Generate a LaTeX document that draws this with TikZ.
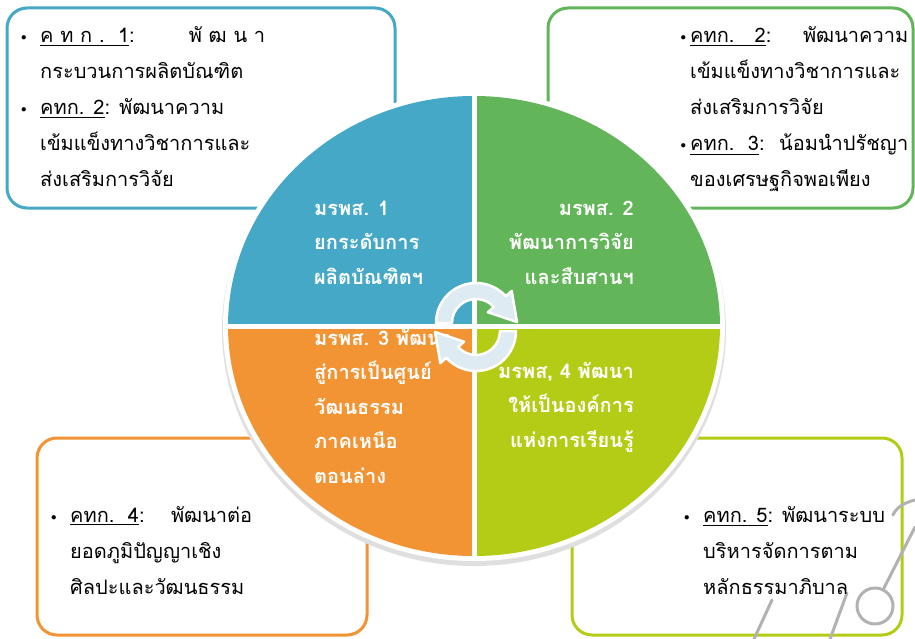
\documentclass[tikz,border=0pt]{standalone}
\usepackage{fontspec}
\usepackage{amsmath,amssymb}
\usetikzlibrary{arrows}
\newfontfamily\thaifont[Script=Thai]{Loma}
\definecolor{qqblue}{rgb}{0.27,0.66,0.78}
\definecolor{qqgreen}{rgb}{0.39,0.71,0.35}
\definecolor{qqorange}{rgb}{0.95,0.58,0.2}
\definecolor{qqlime}{rgb}{0.71,0.8,0.09}
\definecolor{cycfill}{rgb}{0.87,0.92,0.95}
\definecolor{wmgray}{rgb}{0.7,0.7,0.7}
\newcommand{\bul}{\makebox[19pt][l]{\raisebox{2pt}{\fontsize{11}{11}\selectfont$\bullet$}}}
\newcommand{\lbul}{\llap{\raisebox{2pt}{\fontsize{11}{11}\selectfont$\bullet$}\kern4pt}}

\begin{document}
\begin{tikzpicture}[line cap=round,line join=round,x=1pt,y=-1pt,
  goalbox/.style={rounded corners=20pt,line width=3pt,fill=white},
  goaltext/.style={inner sep=0pt,font=\thaifont\fontsize{20}{36}\selectfont},
  quadtext/.style={inner sep=0pt,text=white,font=\thaifont\bfseries\fontsize{20}{34.5}\selectfont},
  cycarrow/.style={fill=cycfill,draw=white,line width=2.5pt}]
    \useasboundingbox[fill=white] (0,0) rectangle (915,639);
    % corner boxes
    \draw[goalbox,draw=qqblue] (7,8) rectangle (395,208);
    \draw[goalbox,draw=qqgreen] (548,8) rectangle (913,208);
    \draw[goalbox,draw=qqorange] (37,438) rectangle (367,635);
    \draw[goalbox,draw=qqlime] (572,438) rectangle (902,635);
    % watermark
    \draw[wmgray,line width=3pt] (915,527) -- (884,588);
    \draw[wmgray,line width=3pt] (875,606) circle (18);
    \draw[wmgray,line width=3pt] (847,593) -- (830,639);
    \draw[wmgray,line width=3pt] (772,600) -- (754,639);
    \draw[wmgray,line width=3pt] (915,500) .. controls (903,503) and (896,508) .. (893,515);
    % main circle
    \fill[gray!25] (474,330) ellipse [x radius=252,y radius=236];
    \fill[white] (474,326) ellipse [x radius=251,y radius=235];
    \begin{scope}
    \clip (474,326) ellipse [x radius=246,y radius=230];
    \fill[qqblue] (220,90) rectangle (474,326);
    \fill[qqgreen] (474,90) rectangle (725,326);
    \fill[qqorange] (220,326) rectangle (474,560);
    \fill[qqlime] (474,326) rectangle (725,560);
    \end{scope}
    \draw[white,line width=5pt] (226,326) -- (722,326);
    \draw[white,line width=5pt] (474,94) -- (474,558);
    % quadrant labels
    \node[quadtext,anchor=base west] (q1) at (314,215) {\begin{tabular}[t]{@{}l@{}}มรพส. 1\\ยกระดับการ\\ผลิตบัณฑิตฯ\end{tabular}};
    \node[quadtext,anchor=base east] (q2) at (634,215) {\begin{tabular}[t]{@{}r@{}}มรพส. 2\\พัฒนาการวิจัย\\และสืบสานฯ\end{tabular}};
    \node[quadtext,anchor=base west] (q3) at (314,345) {\begin{tabular}[t]{@{}l@{}}มรพส. 3 พัฒนา\\สู่การเป็นศูนย์\\วัฒนธรรม\\ภาคเหนือ\\ตอนล่าง\end{tabular}};
    \node[quadtext,anchor=base east] (q4) at (634,378) {\begin{tabular}[t]{@{}r@{}}มรพส, 4 พัฒนา\\ให้เป็นองค์การ\\แห่งการเรียนรู้\end{tabular}};
    % cycle arrows
    \begin{scope}[shift={(476,323)}]
    \draw[cycarrow] (180:40) arc[start angle=180,end angle=318,radius=40] -- (318:48) -- (41,-1) -- (318:16) -- (318:24) arc[start angle=318,end angle=180,radius=24] -- cycle;
    \end{scope}
    \begin{scope}[shift={(476,331)}]
    \draw[cycarrow] (0:40) arc[start angle=0,end angle=138,radius=40] -- (138:48) -- (-41,1) -- (138:16) -- (138:24) arc[start angle=138,end angle=0,radius=24] -- cycle;
    \end{scope}
    % box texts
    \node[goaltext,anchor=base west] (t1) at (21,43) {\begin{tabular}[t]{@{}l@{}l@{}}
      \bul & \hbox to 225pt{\underline{ค ท ก .~~1}:\hfill พั ฒ น า}\\
      & กระบวนการผลิตบัณฑิต\\
      \bul & \underline{คทก. 2}: พัฒนาความ\\
      & เข้มแข็งทางวิชาการและ\\
      & ส่งเสริมการวิจัย\end{tabular}};
    \node[goaltext,anchor=base west] (t2) at (690,43) {\begin{tabular}[t]{@{}l@{}}
      \hbox to 218pt{\lbul\underline{คทก.~~~2}:\hfill พัฒนาความ}\\
      เข้มแข็งทางวิชาการและ\\
      ส่งเสริมการวิจัย\\
      \hbox to 218pt{\lbul\underline{คทก.~~3}:\hfill น้อมนำปรัชญา}\\
      ของเศรษฐกิจพอเพียง\end{tabular}};
    \node[goaltext,anchor=base west] (t3) at (51,522) {\begin{tabular}[t]{@{}l@{}l@{}}
      \bul & \hbox to 182pt{\underline{คทก.~~4}:\hfill พัฒนาต่อ}\\
      & ยอดภูมิปัญญาเชิง\\
      & ศิลปะและวัฒนธรรม\end{tabular}};
    \node[goaltext,anchor=base west] (t4) at (684,522) {\begin{tabular}[t]{@{}l@{}l@{}}
      \bul & \underline{คทก. 5}: พัฒนาระบบ\\
      & บริหารจัดการตาม\\
      & หลักธรรมาภิบาล\end{tabular}};
\end{tikzpicture}
\end{document}
